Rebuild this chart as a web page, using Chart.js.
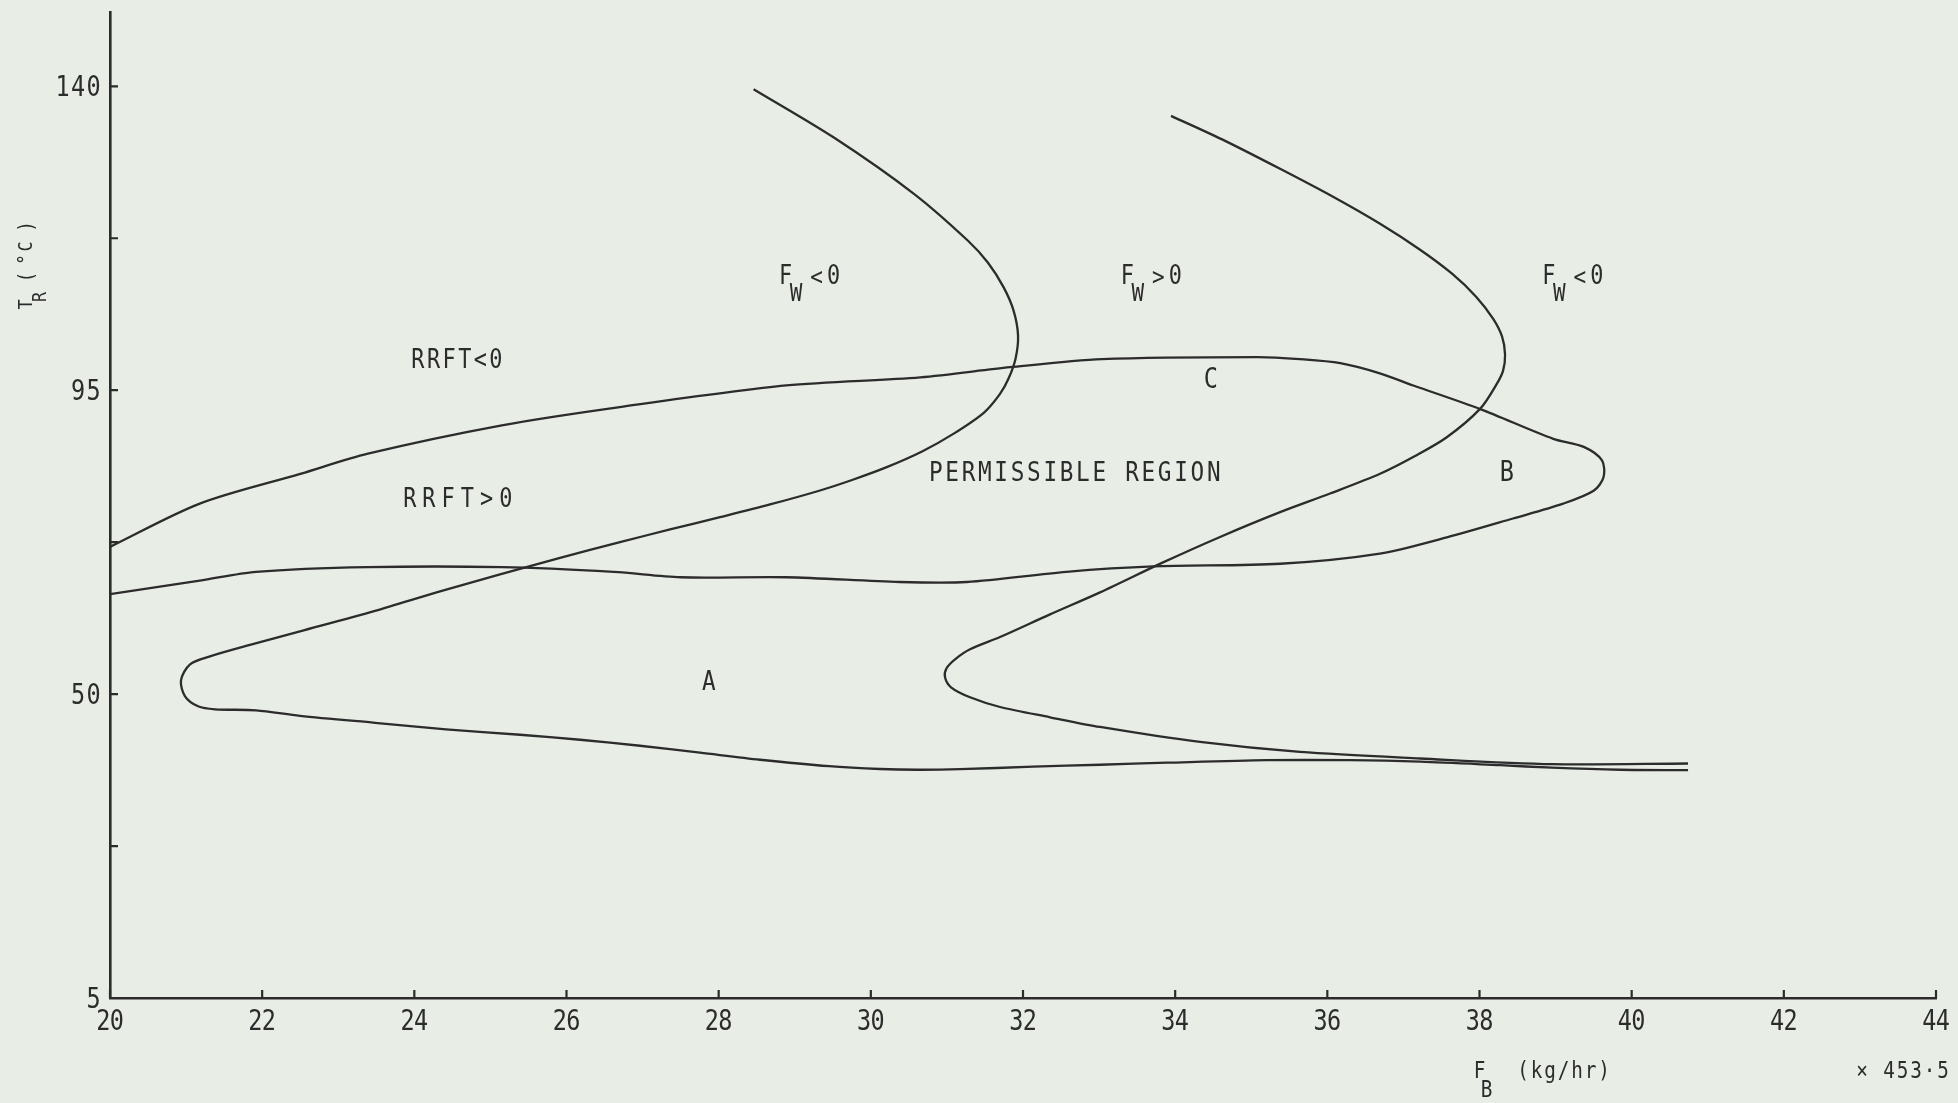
<!DOCTYPE html>
<html>
<head>
<meta charset="utf-8">
<title>Operating region: F_B vs T_R</title>
<script src="https://cdn.jsdelivr.net/npm/chart.js@4.4.1/dist/chart.umd.min.js"></script>
<style>
  html, body { margin: 0; padding: 0; background: #e8ede5; }
  #wrap { width: 1958px; height: 1103px; position: relative; }
</style>
</head>
<body>
<div id="wrap"><canvas id="map"></canvas></div>
<script>
// ---- axis ticks ----
const xTickValues = [20, 22, 24, 26, 28, 30, 32, 34, 36, 38, 40, 42, 44];
const yTickValues = [5, 27.5, 50, 72.5, 95, 117.5, 140];
const yLabelledTicks = [5, 50, 95, 140];

// ---- F_W = 0 boundary, left branch (F_B in lb/hr x 453.5, T_R in deg C) ----
const fwLeftF = [28.459, 29.514, 30.571, 31.277, 31.540, 31.746, 31.876, 31.935, 31.902, 31.810,
                 31.698, 31.488, 31.084, 30.673, 30.209, 29.753, 29.332, 28.675, 28.018, 27.361,
                 26.703, 25.915, 25.126, 24.338, 23.483, 22.497, 21.840, 21.314, 21.052, 20.933,
                 20.986, 21.157, 21.380, 21.919, 22.497, 23.483, 24.416, 25.389, 26.178, 26.966,
                 27.755, 28.544, 29.451, 30.121, 30.620, 31.172, 32.132, 33.013, 33.893, 35.208,
                 36.299, 37.219, 38.270, 38.954, 39.848, 40.741];
const fwLeftT = [139.57, 132.41, 124.04, 117.13, 113.88, 110.22, 106.78, 103.08, 99.67, 96.72,
                 94.45, 91.69, 88.53, 85.92, 83.60, 81.70, 80.15, 78.08, 76.20, 74.38,
                 72.50, 70.16, 67.72, 65.21, 62.32, 59.29, 57.29, 55.59, 54.41, 52.04,
                 49.67, 48.20, 47.75, 47.60, 46.79, 45.75, 44.79, 43.98, 43.24, 42.35,
                 41.32, 40.28, 39.32, 38.91, 38.80, 38.88, 39.25, 39.54, 39.84, 40.21,
                 40.21, 39.99, 39.47, 39.10, 38.80, 38.73];

// ---- F_W = 0 boundary, right branch ----
const fwRightF = [33.946, 34.656, 35.379, 36.075, 36.693, 37.219, 37.639, 37.955, 38.178, 38.297,
                  38.336, 38.310, 38.227, 38.007, 37.570, 37.153, 36.693, 36.036, 35.379, 34.590,
                  33.841, 33.013, 32.355, 31.698, 31.304, 31.107, 30.995, 30.975, 31.054, 31.304,
                  31.698, 32.355, 33.013, 34.327, 35.641, 37.219, 38.954, 40.741];
const fwRightT = [135.62, 131.92, 127.78, 123.64, 119.64, 115.80, 112.25, 108.85, 105.59, 102.93,
                  100.27, 97.90, 95.93, 92.23, 88.03, 85.25, 82.62, 79.70, 76.94, 73.27,
                  69.50, 65.06, 61.80, 58.45, 56.63, 55.15, 53.82, 52.49, 51.01, 49.53,
                  48.09, 46.57, 45.13, 42.91, 41.43, 40.46, 39.62, 39.72];

// ---- RRFT = 0 boundary (loop through C and B) ----
const rrftF = [20.00, 21.18, 22.50, 23.39, 25.15, 26.70, 28.89, 30.65, 31.83, 33.04,
               35.09, 35.64, 36.17, 36.69, 37.13, 38.01, 38.97, 39.37, 39.61, 39.63,
               39.50, 39.10, 38.44, 37.57, 36.69, 35.38, 33.71, 32.57, 31.26, 30.38,
               28.89, 27.50, 26.62, 25.15, 23.39, 21.92, 21.18, 20.00];
const rrftT = [71.8, 78.2, 82.6, 85.6, 89.8, 92.5, 95.7, 96.9, 98.4, 99.6,
               99.9, 99.6, 99.0, 97.5, 95.7, 92.2, 87.8, 86.6, 84.6, 82.1,
               80.1, 78.2, 76.0, 73.2, 70.8, 69.3, 68.9, 68.1, 66.6, 66.6,
               67.3, 67.3, 68.1, 68.8, 68.8, 68.1, 66.8, 64.8];

// ---- region annotations (placed in data coordinates) ----
const regionTexts = [
  { text: 'RRFT<0', f: 24.56, t: 99.7, size: 26, pitch: 15.6 },
  { text: 'RRFT>0', f: 24.57, t: 79.1, size: 26, pitch: 19.2 },
  { text: 'PERMISSIBLE REGION', f: 32.68, t: 83.0, size: 27, pitch: 16.35 },
  { text: 'C', f: 34.47, t: 96.9, size: 28, pitch: 16 },
  { text: 'B', f: 38.36, t: 83.1, size: 28, pitch: 16 },
  { text: 'A', f: 27.87, t: 52.0, size: 27, pitch: 16 }
];
const fwTexts = [
  { op: '<', f: 28.88, t: 112.1 },
  { op: '>', f: 33.37, t: 112.1 },
  { op: '<', f: 38.91, t: 112.1 }
];

const INK = '#2c2c2c';
const PAPER = '#e8ede5';
const FONT = '"DejaVu Sans Mono", "Liberation Mono", monospace';
const SQUEEZE = 0.84;   // horizontal glyph compression (plotter lettering)

const toPoints = (fs, ts) => fs.map((f, i) => ({ x: f, y: ts[i] }));

// Fixed-pitch lettering; (cx, cy) = centre of the capitals, align 'center' or 'right'
function letters(ctx, str, cx, cy, size, pitch, align) {
  ctx.save();
  ctx.font = size + 'px ' + FONT;
  ctx.textAlign = 'center';
  ctx.textBaseline = 'alphabetic';
  const chars = [...str];
  const n = chars.length;
  const x0 = align === 'right' ? cx - pitch * (n - 1) : cx - pitch * (n - 1) / 2;
  chars.forEach((ch, i) => {
    if (ch === ' ') return;
    ctx.save();
    ctx.translate(x0 + i * pitch, cy + size * 0.3645);
    ctx.scale(SQUEEZE, 1);
    ctx.fillText(ch, 0, 0);
    ctx.restore();
  });
  ctx.restore();
}

// One glyph turned a quarter turn anticlockwise, centred on (x, y)
function rotChar(ctx, ch, x, y, size) {
  ctx.save();
  ctx.translate(x, y);
  ctx.rotate(-Math.PI / 2);
  ctx.scale(SQUEEZE, 1);
  ctx.font = size + 'px ' + FONT;
  ctx.textAlign = 'center';
  ctx.textBaseline = 'alphabetic';
  ctx.fillText(ch, 0, size * 0.3645);
  ctx.restore();
}

const paperAndText = {
  id: 'paperAndText',
  beforeDraw(chart) {
    const { ctx, width, height } = chart;
    ctx.save();
    ctx.fillStyle = PAPER;
    ctx.fillRect(0, 0, width, height);
    ctx.restore();
  },
  afterDraw(chart) {
    const { ctx, chartArea } = chart;
    const xs = chart.scales.x, ys = chart.scales.y;
    ctx.save();
    ctx.strokeStyle = INK;
    ctx.fillStyle = INK;
    ctx.lineWidth = 2.2;

    // inward tick marks
    ctx.beginPath();
    xs.ticks.forEach(t => {
      const px = xs.getPixelForValue(t.value);
      ctx.moveTo(px, chartArea.bottom);
      ctx.lineTo(px, chartArea.bottom - 8);
    });
    ys.ticks.forEach(t => {
      const py = ys.getPixelForValue(t.value);
      ctx.moveTo(chartArea.left, py);
      ctx.lineTo(chartArea.left + 8, py);
    });
    ctx.stroke();

    // tick labels from the scales' own tick list
    xs.ticks.forEach(t => {
      letters(ctx, String(t.label), xs.getPixelForValue(t.value), chartArea.bottom + 22, 28, 13.5);
    });
    ys.ticks.forEach(t => {
      if (t.label) letters(ctx, String(t.label), chartArea.left - 16.5, ys.getPixelForValue(t.value), 28, 15.5, 'right');
    });

    // region labels
    regionTexts.forEach(r => {
      letters(ctx, r.text, xs.getPixelForValue(r.f), ys.getPixelForValue(r.t), r.size, r.pitch);
    });

    // F_W sign labels with subscript W
    fwTexts.forEach(l => {
      const px = xs.getPixelForValue(l.f), py = ys.getPixelForValue(l.t);
      letters(ctx, 'F', px, py, 26, 14);
      letters(ctx, 'W', px + 10.5, py + 17.5, 25, 14);
      letters(ctx, l.op, px + 31, py + 1, 25, 14);
      letters(ctx, '0', px + 48, py, 26, 14);
    });

    // y axis title: T_R (°C)
    const tx = chartArea.left - 85;
    const ty = ys.getPixelForValue(107.7);
    rotChar(ctx, 'T', tx, ty, 20);
    rotChar(ctx, 'R', tx + 14, ty - 7.5, 20);
    rotChar(ctx, '(', tx, ty - 27.5, 21);
    rotChar(ctx, '\u00b0', tx, ty - 45, 21);
    rotChar(ctx, 'C', tx, ty - 58, 20);
    rotChar(ctx, ')', tx, ty - 78, 21);

    // x axis title: F_B (kg/hr), and the unit multiplier
    const bx = xs.getPixelForValue(38.0);
    const by = chartArea.bottom + 72;
    letters(ctx, 'F', bx, by, 23, 13);
    letters(ctx, 'B', bx + 7, by + 19, 23, 13);
    letters(ctx, '(kg/hr)', bx + 84, by, 23, 13.5);
    letters(ctx, '\u00d7 453\u00b75', xs.getPixelForValue(43.56), by, 23, 13.5);

    ctx.restore();
  }
};

const lineStyle = {
  showLine: true,
  pointRadius: 0,
  borderColor: INK,
  borderWidth: 2.3,
  tension: 0.3,
  fill: false
};

new Chart(document.getElementById('map'), {
  type: 'scatter',
  data: {
    datasets: [
      Object.assign({ label: 'F_W = 0 (left)', data: toPoints(fwLeftF, fwLeftT) }, lineStyle),
      Object.assign({ label: 'F_W = 0 (right)', data: toPoints(fwRightF, fwRightT) }, lineStyle),
      Object.assign({ label: 'RRFT = 0', data: toPoints(rrftF, rrftT) }, lineStyle)
    ]
  },
  options: {
    responsive: true,
    maintainAspectRatio: false,
    devicePixelRatio: 1,
    animation: false,
    events: [],
    layout: { padding: { left: 0, right: 22, top: 12, bottom: 0 } },
    plugins: { legend: { display: false }, tooltip: { enabled: false } },
    scales: {
      x: {
        type: 'linear',
        min: 20,
        max: 44,
        grid: { display: false, drawTicks: false },
        border: { display: true, color: INK, width: 2.6 },
        ticks: { display: false, autoSkip: false, callback: v => String(v) },
        afterBuildTicks: axis => { axis.ticks = xTickValues.map(v => ({ value: v })); },
        afterFit: axis => {
          axis.height = 105;
          axis.paddingLeft = 0; axis.paddingRight = 0;
        }
      },
      y: {
        type: 'linear',
        min: 5,
        max: 151,
        grid: { display: false, drawTicks: false },
        border: { display: true, color: INK, width: 2.6 },
        ticks: {
          display: false,
          autoSkip: false,
          callback: v => (yLabelledTicks.includes(v) ? String(v) : '')
        },
        afterBuildTicks: axis => { axis.ticks = yTickValues.map(v => ({ value: v })); },
        afterFit: axis => {
          axis.width = 110;
          axis.paddingTop = 0; axis.paddingBottom = 0;
        }
      }
    }
  },
  plugins: [paperAndText]
});
</script>
</body>
</html>
